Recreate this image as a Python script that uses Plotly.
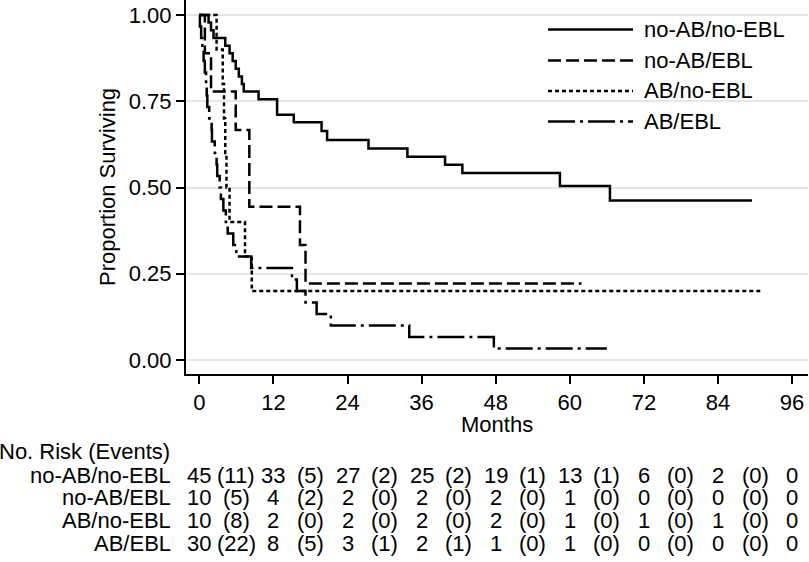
import plotly.graph_objects as go

# ---------------- data ----------------
groups = ["no-AB/no-EBL", "no-AB/EBL", "AB/no-EBL", "AB/EBL"]

t_noab_noebl = [0, 1.5, 1.9, 2.3, 4.2, 4.9, 5.4, 5.9, 6.4, 6.9, 7.2, 9.6, 12.6, 15.3,
                19.8, 20.7, 27.4, 33.7, 39.8, 42.6, 58.4, 66.5, 89.5]
s_noab_noebl = [1.0, 0.978, 0.956, 0.933, 0.911, 0.889, 0.867, 0.844, 0.822, 0.800, 0.778,
                0.756, 0.711, 0.689, 0.664, 0.638, 0.613, 0.589, 0.566, 0.542, 0.504, 0.462, 0.462]

t_noab_ebl = [0, 0.9, 1.9, 5.9, 8.1, 16.3, 17.2, 61.9]
s_noab_ebl = [1.0, 0.889, 0.778, 0.667, 0.444, 0.333, 0.222, 0.222]

t_ab_noebl = [0, 2.8, 3.8, 4.0, 4.2, 4.4, 4.9, 7.4, 8.5, 91.3]
s_ab_noebl = [1.0, 0.9, 0.8, 0.7, 0.6, 0.5, 0.4, 0.3, 0.2, 0.2]

t_ab_ebl = [0, 0.1, 0.3, 0.5, 0.7, 0.9, 1.1, 1.2, 1.3, 1.6, 2.0, 2.05, 2.5, 2.8, 2.9, 3.3,
            3.5, 3.9, 4.3, 4.6, 5.5, 6.0, 8.4, 15.0, 15.8, 17.2, 19.0, 21.3, 34.0, 47.7, 66.0]
s_ab_ebl = [1.0, 0.967, 0.933, 0.9, 0.867, 0.833, 0.8, 0.767, 0.733, 0.7, 0.667, 0.633, 0.6,
            0.567, 0.533, 0.5, 0.467, 0.433, 0.4, 0.367, 0.333, 0.3, 0.267, 0.233, 0.2, 0.167,
            0.133, 0.1, 0.067, 0.033, 0.033]

x_ticks = [0, 12, 24, 36, 48, 60, 72, 84, 96]
y_ticks = [0.0, 0.25, 0.5, 0.75, 1.0]
y_tick_labels = ["0.00", "0.25", "0.50", "0.75", "1.00"]

risk_times = [0, 12, 24, 36, 48, 60, 72, 84, 96]
event_times = [6, 18, 30, 42, 54, 66, 78, 90]
at_risk_noab_noebl = [45, 33, 27, 25, 19, 13, 6, 2, 0]
at_risk_noab_ebl = [10, 4, 2, 2, 2, 1, 0, 0, 0]
at_risk_ab_noebl = [10, 2, 2, 2, 2, 1, 1, 1, 0]
at_risk_ab_ebl = [30, 8, 3, 2, 1, 1, 0, 0, 0]
events_noab_noebl = [11, 5, 2, 2, 1, 1, 0, 0]
events_noab_ebl = [5, 2, 0, 0, 0, 0, 0, 0]
events_ab_noebl = [8, 0, 0, 0, 0, 0, 0, 0]
events_ab_ebl = [22, 5, 1, 1, 0, 0, 0, 0]

# ---------------- styling ----------------
W, H = 809, 562
ML, MR, MT, MB = 186, 1, 0, 188
PW, PH = W - ML - MR, H - MT - MB
FONT = "Liberation Sans, Arial, Helvetica, sans-serif"
FS = 22
LW = 2.5
dashes = ["solid", "13px,5px", "4px,3px", "27px,5px,3px,5px"]

def px_x(p):
    return (p - ML) / PW

def px_y(p):
    return 1 - (p - MT) / PH

def txt_font():
    return dict(size=FS, color="black", family=FONT)

series = [
    (t_noab_noebl, s_noab_noebl),
    (t_noab_ebl, s_noab_ebl),
    (t_ab_noebl, s_ab_noebl),
    (t_ab_ebl, s_ab_ebl),
]

fig = go.Figure()
for name, (t, s), d in zip(groups, series, dashes):
    fig.add_trace(go.Scatter(
        x=t, y=s, mode="lines", name=name, showlegend=False, hoverinfo="skip",
        line=dict(color="black", width=LW, dash=d, shape="hv"),
    ))

shapes = []
annotations = []

def note(text, xref, x, py, xanchor="center", **kw):
    d = dict(text=text, xref=xref, yref="paper", x=x, y=px_y(py), xanchor=xanchor,
             yanchor="middle", showarrow=False, borderpad=0, font=txt_font())
    d.update(kw)
    annotations.append(d)

# manual legend
leg_rows = [29.5, 60.5, 91, 121.5]
for name, d, py in zip(groups, dashes, leg_rows):
    shapes.append(dict(type="line", xref="paper", yref="paper",
                       x0=px_x(548), x1=px_x(633), y0=px_y(py), y1=px_y(py),
                       line=dict(color="black", width=LW, dash=d)))
    note(name, "paper", px_x(643), py, xanchor="left")

# axis titles
note("Months", "paper", px_x(497), 424)
note("Proportion Surviving", "paper", px_x(107), 187, textangle=-90)

# risk table
note("No. Risk (Events)", "paper", px_x(-2), 451, xanchor="left")
table_rows = [
    (at_risk_noab_noebl, events_noab_noebl),
    (at_risk_noab_ebl, events_noab_ebl),
    (at_risk_ab_noebl, events_ab_noebl),
    (at_risk_ab_ebl, events_ab_ebl),
]
row_py = [475, 497.7, 520.3, 543]
for name, (nr, ev), py in zip(groups, table_rows, row_py):
    note(name, "paper", px_x(172), py, xanchor="right")
    for tx, n in zip(risk_times, nr):
        note(str(n), "x", tx, py)
    for tx, e in zip(event_times, ev):
        note("(%d)" % e, "x", tx, py)

x0_px, px_per_month = 199.3, 6.175
y0_px, px_per_unit = 360.0, 345.0
x_range = [-(x0_px - ML) / px_per_month, (ML + PW - x0_px) / px_per_month]
y_range = [-(MT + PH - y0_px) / px_per_unit, (y0_px - MT) / px_per_unit]

fig.update_layout(
    width=W, height=H,
    margin=dict(l=ML, r=MR, t=MT, b=MB, pad=0),
    paper_bgcolor="white", plot_bgcolor="white",
    font=dict(family=FONT, size=FS, color="black"),
    showlegend=False,
    hovermode=False,
    shapes=shapes,
    annotations=annotations,
    xaxis=dict(range=x_range, tickvals=x_ticks, ticktext=[str(v) for v in x_ticks],
               showgrid=False, zeroline=False, showline=True, linecolor="black", linewidth=2,
               ticks="outside", ticklen=8, tickwidth=2, tickcolor="black",
               tickfont=txt_font(), fixedrange=True),
    yaxis=dict(range=y_range, tickvals=y_ticks, ticktext=y_tick_labels,
               showgrid=True, gridcolor="#e6e6e6", gridwidth=2, zeroline=False,
               showline=True, linecolor="black", linewidth=2,
               ticks="outside", ticklen=8, tickwidth=2, tickcolor="black",
               tickfont=txt_font(), fixedrange=True),
)

fig.write_html("out.html",
               config={"displayModeBar": False},
               post_script="document.body.style.margin='0';document.body.style.padding='0';")
